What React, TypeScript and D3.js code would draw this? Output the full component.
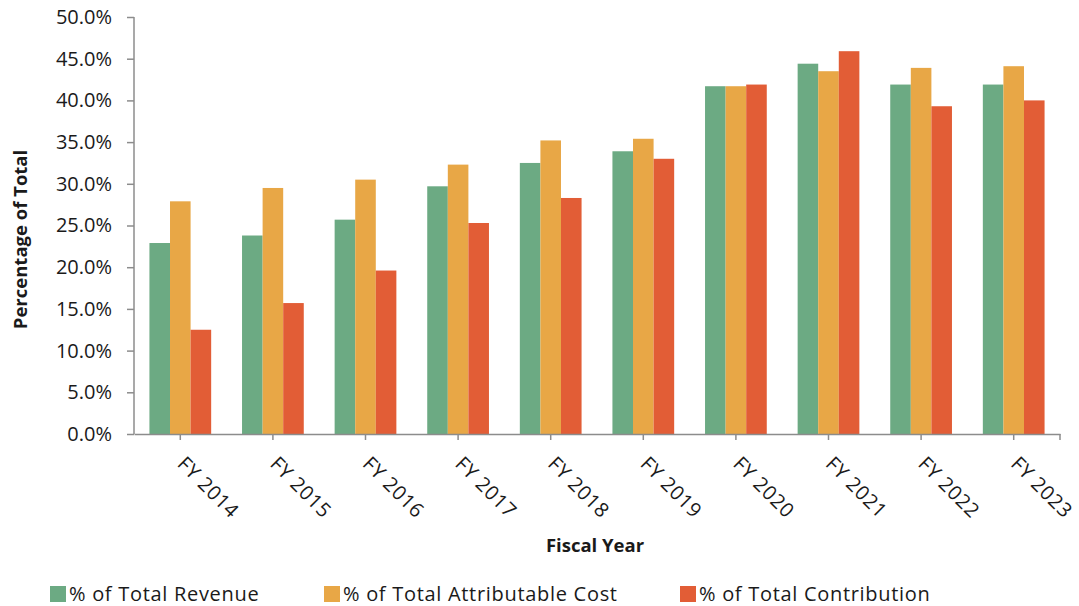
import React, { useRef, useEffect } from 'react';
import * as d3 from 'd3';

const categories = ['FY 2014', 'FY 2015', 'FY 2016', 'FY 2017', 'FY 2018', 'FY 2019', 'FY 2020', 'FY 2021', 'FY 2022', 'FY 2023'];
const revenue = [22.9, 23.8, 25.7, 29.7, 32.5, 33.9, 41.7, 44.4, 41.9, 41.9];
const attributableCost = [27.9, 29.5, 30.5, 32.3, 35.2, 35.4, 41.7, 43.5, 43.9, 44.1];
const contribution = [12.5, 15.7, 19.6, 25.3, 28.3, 33.0, 41.9, 45.9, 39.3, 40.0];
const yTicks = [0, 5, 10, 15, 20, 25, 30, 35, 40, 45, 50];

const seriesNames = ['% of Total Revenue', '% of Total Attributable Cost', '% of Total Contribution'];
const seriesColors = ['#6caa83', '#e8a746', '#e25d36'];

const App = () => {
  const svgRef = useRef<SVGSVGElement | null>(null);
  const width = 1079;
  const height = 606;

  useEffect(() => {
    const svg = d3.select(svgRef.current);
    svg.selectAll('*').remove();

    const font = '"Open Sans", sans-serif';
    const left = 134;
    const right = 1060;
    const top = 17;
    const bottom = 434;

    const x = d3.scaleBand<string>().domain(categories).range([left, right]).padding(0);
    const y = d3.scaleLinear().domain([0, 50]).range([bottom, top]);

    // bars sit in the middle of each band, 150% gap width
    const inner = d3.scaleBand<string>()
      .domain(seriesNames)
      .range([0, x.bandwidth() * 3 / 4.5])
      .padding(0);
    const offset = (x.bandwidth() - x.bandwidth() * 3 / 4.5) / 2;

    const series = [revenue, attributableCost, contribution];
    const rows = categories.map((c, i) => ({ cat: c, vals: series.map(s => s[i]) }));

    const groups = svg.append('g')
      .selectAll('g')
      .data(rows)
      .enter()
      .append('g')
      .attr('transform', d => `translate(${(x(d.cat) as number) + offset},0)`);

    groups.selectAll('rect')
      .data(d => d.vals.map((v, k) => ({ name: seriesNames[k], v, k })))
      .enter()
      .append('rect')
      .attr('x', d => inner(d.name) as number)
      .attr('y', d => y(d.v))
      .attr('width', inner.bandwidth())
      .attr('height', d => bottom - y(d.v))
      .attr('fill', d => seriesColors[d.k]);

    // y axis
    const yAxis = svg.append('g')
      .attr('transform', `translate(${left},0)`)
      .call(d3.axisLeft(y).tickValues(yTicks).tickSize(7).tickPadding(15).tickFormat(d => `${(+d).toFixed(1)}%`));
    yAxis.select('.domain').attr('stroke', '#8c8c8c').attr('stroke-width', 1.5).attr('d', `M0,${bottom}V${top}`);
    yAxis.selectAll('.tick line').attr('stroke', '#8c8c8c').attr('stroke-width', 1.5);
    yAxis.selectAll('.tick text')
      .attr('font-family', font)
      .attr('font-size', 20)
      .attr('fill', '#1a1a1a');

    // x axis
    const xAxis = svg.append('g')
      .attr('transform', `translate(0,${bottom})`)
      .call(d3.axisBottom(x).tickSize(6).tickSizeOuter(0));
    xAxis.select('.domain').attr('stroke', '#8c8c8c').attr('stroke-width', 1.5);
    xAxis.selectAll('.tick line').attr('stroke', '#8c8c8c').attr('stroke-width', 1.5);
    xAxis.selectAll('.tick text').remove();
    xAxis.append('line')
      .attr('x1', right).attr('x2', right)
      .attr('y1', 0).attr('y2', 6)
      .attr('stroke', '#8c8c8c').attr('stroke-width', 1.5);

    svg.append('g')
      .selectAll('text')
      .data(categories)
      .enter()
      .append('text')
      .attr('transform', d => `translate(${(x(d) as number) + x.bandwidth() / 2 - 4},${bottom + 31}) rotate(45)`)
      .attr('font-family', font)
      .attr('font-size', 20)
      .attr('letter-spacing', 0.6)
      .attr('fill', '#1a1a1a')
      .text(d => d);

    // axis titles
    svg.append('text')
      .attr('transform', `translate(27,${(top + bottom) / 2 + 14}) rotate(-90)`)
      .attr('text-anchor', 'middle')
      .attr('font-family', font)
      .attr('font-weight', 'bold')
      .attr('font-size', 18.5)
      .attr('fill', '#1a1a1a')
      .text('Percentage of Total');

    svg.append('text')
      .attr('x', (left + right) / 2 - 2)
      .attr('y', 552)
      .attr('text-anchor', 'middle')
      .attr('font-family', font)
      .attr('font-weight', 'bold')
      .attr('font-size', 18.5)
      .attr('fill', '#1a1a1a')
      .text('Fiscal Year');

    // legend
    const legendX = [50, 324, 680];
    const legend = svg.append('g')
      .selectAll('g')
      .data(seriesNames)
      .enter()
      .append('g')
      .attr('transform', (d, i) => `translate(${legendX[i]},586)`);
    legend.append('rect')
      .attr('width', 16)
      .attr('height', 16)
      .attr('fill', (d, i) => seriesColors[i]);
    legend.append('text')
      .attr('x', 19)
      .attr('y', 15)
      .attr('font-family', font)
      .attr('font-size', 20)
      .attr('letter-spacing', 0.7)
      .attr('fill', '#1a1a1a')
      .text(d => d);
  }, []);

  return (
    <svg
      ref={svgRef}
      width={width}
      height={height}
      style={{ position: 'absolute', left: 0, top: 0, background: '#fff' }}
    />
  );
};

export default App;
